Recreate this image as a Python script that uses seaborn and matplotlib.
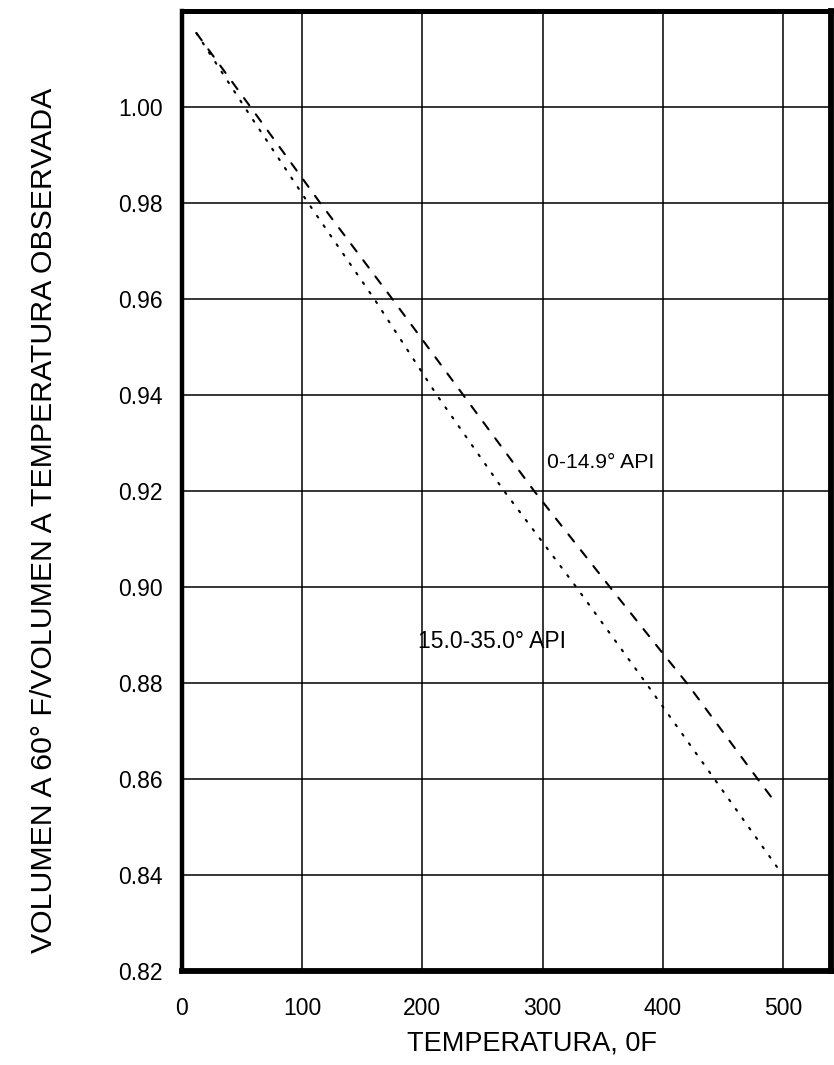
import numpy as np
import pandas as pd
import seaborn as sns
import matplotlib.pyplot as plt

# Curves (temperature in F, volume ratio)
temp_heavy = [12, 57, 115, 175, 234, 293, 356, 400, 420, 479, 491]
vol_heavy = [1.0154, 1.000, 0.980, 0.960, 0.940, 0.920, 0.900, 0.8862, 0.880, 0.860, 0.856]

temp_medium = [12, 52, 105, 160, 212, 268, 328, 386, 443, 495]
vol_medium = [1.0154, 1.000, 0.980, 0.960, 0.940, 0.920, 0.900, 0.880, 0.860, 0.8417]

series_names = ['0-14.9° API', '15.0-35.0° API']
x_ticks = [0, 100, 200, 300, 400, 500]
y_ticks = [0.82, 0.84, 0.86, 0.88, 0.90, 0.92, 0.94, 0.96, 0.98, 1.00]

df = pd.concat([
    pd.DataFrame({'temp': temp_heavy, 'vol': vol_heavy, 'serie': series_names[0]}),
    pd.DataFrame({'temp': temp_medium, 'vol': vol_medium, 'serie': series_names[1]}),
])

sns.set_style('white')
plt.rcParams['font.family'] = ['Liberation Sans', 'DejaVu Sans']
plt.rcParams['lines.scale_dashes'] = False
plt.rcParams['text.color'] = 'black'
plt.rcParams['axes.labelcolor'] = 'black'

fig = plt.figure(figsize=(8.34, 10.65), dpi=100)
ax = fig.add_axes([182 / 834, 94 / 1065, 649 / 834, 960 / 1065])

sns.lineplot(data=df, x='temp', y='vol', style='serie', hue='serie',
             palette=['black', 'black'],
             dashes={series_names[0]: (6.5, 8), series_names[1]: (1.4, 6.9)},
             linewidth=1.5, legend=False, ax=ax, sort=False)
for ln in ax.get_lines():
    ln.set_dash_capstyle('round')

ax.set_xlim(0, 540)
ax.set_ylim(0.82, 1.02)
ax.set_xticks(x_ticks)
ax.set_yticks(y_ticks)
ax.set_yticklabels([f'{v:.2f}' for v in y_ticks])
ax.tick_params(length=0, labelsize=16.5, colors='black')
ax.tick_params(axis='y', pad=14)
ax.tick_params(axis='x', pad=19)
ax.grid(True, color='black', linewidth=1.1)
ax.set_axisbelow(True)

for side in ['left', 'bottom', 'top', 'right']:
    ax.spines[side].set_visible(True)
    ax.spines[side].set_color('black')
ax.spines['left'].set_linewidth(3.2)
ax.spines['bottom'].set_linewidth(4.2)
ax.spines['top'].set_linewidth(3.6)
ax.spines['right'].set_linewidth(4.2)

ax.set_xlabel('TEMPERATURA, 0F', fontsize=19.5)
ax.xaxis.set_label_coords(0.539, -0.076)
ax.xaxis.label.set_va('center')
ax.set_ylabel('VOLUMEN A 60° F/VOLUMEN A TEMPERATURA OBSERVADA', fontsize=21.8)
ax.yaxis.set_label_coords(-0.213, 0.469)
ax.yaxis.label.set_va('center')

ax.text(304, 0.9259, series_names[0], fontsize=15.2, ha='left', va='center')
ax.text(196, 0.8886, series_names[1], fontsize=16.5, ha='left', va='center')

fig.savefig('out.png', dpi=100)
